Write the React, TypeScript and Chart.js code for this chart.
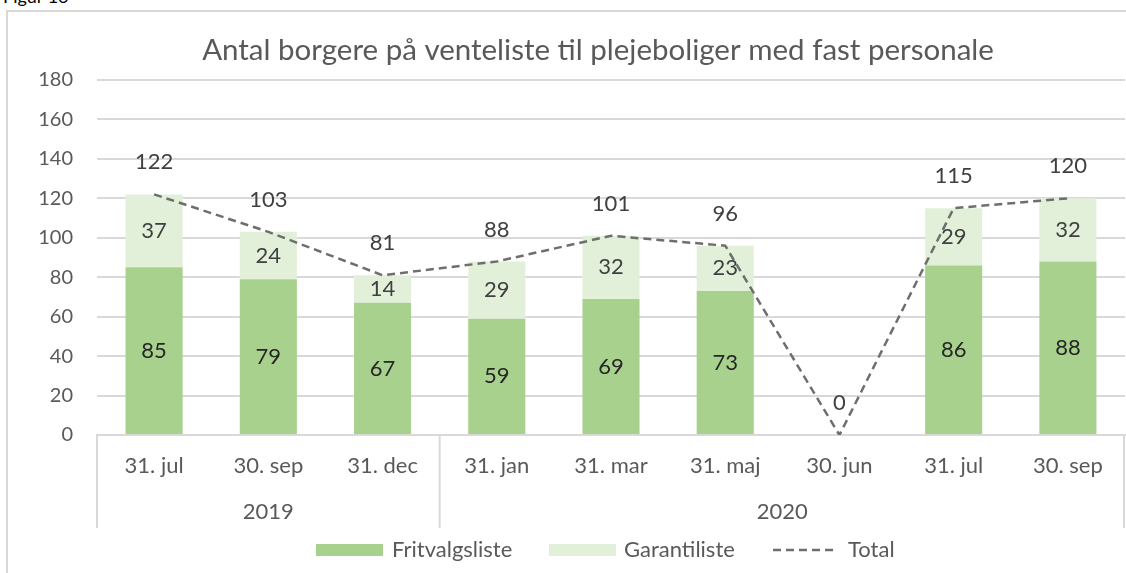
import React, { useEffect, useRef } from "react";
import { Chart, registerables } from "chart.js";

Chart.register(...registerables);

const TITLE = "Antal borgere på venteliste til plejeboliger med fast personale";
const categories = ["31. jul", "30. sep", "31. dec", "31. jan", "31. mar", "31. maj", "30. jun", "31. jul", "30. sep"];
const years = ["2019", "2020"];
const yearSpans = [3, 6];
const fritvalgsliste = [85, 79, 67, 59, 69, 73, null, 86, 88];
const garantiliste = [37, 24, 14, 29, 32, 23, null, 29, 32];
const total = [122, 103, 81, 88, 101, 96, 0, 115, 120];
const yTicks = [0, 20, 40, 60, 80, 100, 120, 140, 160, 180];

const FONT = "Lato, 'Noto Sans', sans-serif";
const GRID = "#d9d9d9";
const TEXT = "#595959";
const GREEN = "#a9d18e";
const LIGHT = "#e2f0d9";
const LINE = "#6e6e6e";

const overlay = {
  id: "overlay",
  afterDatasetsDraw(chart: any) {
    const ctx = chart.ctx;
    const area = chart.chartArea;
    const x = chart.scales.x;
    ctx.save();
    // title
    ctx.fillStyle = TEXT;
    ctx.font = `29.5px ${FONT}`;
    ctx.textAlign = "center";
    ctx.textBaseline = "middle";
    ctx.fillText(TITLE, 598, 50);

    // bar labels
    ctx.font = `22px ${FONT}`;
    const m0 = chart.getDatasetMeta(0);
    const m1 = chart.getDatasetMeta(1);
    const m2 = chart.getDatasetMeta(2);
    m0.data.forEach((el: any, i: number) => {
      const v = fritvalgsliste[i];
      if (v == null) return;
      ctx.fillStyle = "#262626";
      ctx.fillText(String(v), el.x, (el.y + el.base) / 2);
    });
    m1.data.forEach((el: any, i: number) => {
      const v = garantiliste[i];
      if (v == null) return;
      ctx.fillStyle = "#404040";
      ctx.fillText(String(v), el.x, (el.y + el.base) / 2);
    });
    m2.data.forEach((el: any, i: number) => {
      ctx.fillStyle = "#404040";
      ctx.fillText(String(total[i]), el.x, el.y - 32);
    });

    // x axis category labels
    ctx.fillStyle = TEXT;
    ctx.font = `22px ${FONT}`;
    categories.forEach((c, i) => {
      ctx.fillText(c, x.getPixelForValue(i), 466);
    });
    // year separators and labels
    const step = (area.right - area.left) / categories.length;
    ctx.strokeStyle = GRID;
    ctx.lineWidth = 2;
    let start = 0;
    const seps: number[] = [area.left];
    years.forEach((y, k) => {
      const end = start + yearSpans[k];
      const xl = area.left + start * step;
      const xr = area.left + end * step;
      seps.push(xr);
      ctx.fillText(y, (xl + xr) / 2, 512);
      start = end;
    });
    seps.forEach((sx, k) => {
      const px = k === seps.length - 1 ? Math.min(sx, chart.width - 2) : sx;
      ctx.beginPath();
      ctx.moveTo(px, area.bottom);
      ctx.lineTo(px, 528);
      ctx.stroke();
    });

    // legend
    const ly = 550;
    ctx.textAlign = "left";
    ctx.fillStyle = GREEN;
    ctx.fillRect(316, ly - 6, 67, 12);
    ctx.fillStyle = TEXT;
    ctx.fillText("Fritvalgsliste", 392, ly);
    ctx.fillStyle = LIGHT;
    ctx.fillRect(549, ly - 6, 67, 12);
    ctx.fillStyle = TEXT;
    ctx.fillText("Garantiliste", 624, ly);
    ctx.strokeStyle = LINE;
    ctx.lineWidth = 2.5;
    ctx.setLineDash([8, 5]);
    ctx.beginPath();
    ctx.moveTo(773, ly);
    ctx.lineTo(837, ly);
    ctx.stroke();
    ctx.setLineDash([]);
    ctx.fillText("Total", 848, ly);
    ctx.restore();
  },
};

export default function App() {
  const ref = useRef<HTMLCanvasElement>(null);
  useEffect(() => {
    if (!ref.current) return;
    const chart = new Chart(ref.current, {
      type: "bar",
      data: {
        labels: categories,
        datasets: [
          {
            type: "bar",
            label: "Fritvalgsliste",
            data: fritvalgsliste as any,
            backgroundColor: GREEN,
            stack: "s",
            order: 1,
            barPercentage: 0.5,
            categoryPercentage: 1,
          },
          {
            type: "bar",
            label: "Garantiliste",
            data: garantiliste as any,
            backgroundColor: LIGHT,
            stack: "s",
            order: 2,
            barPercentage: 0.5,
            categoryPercentage: 1,
          },
          {
            type: "line",
            label: "Total",
            data: total,
            borderColor: LINE,
            borderWidth: 2.5,
            borderDash: [8, 5],
            pointRadius: 0,
            tension: 0,
            fill: false,
            stack: "t",
            order: 0,
          } as any,
        ],
      },
      options: {
        animation: false,
        responsive: false,
        maintainAspectRatio: false,
        layout: { padding: { top: 80, left: 0, right: 1, bottom: 0 } },
        plugins: { legend: { display: false }, title: { display: false }, tooltip: { enabled: false } },
        scales: {
          x: {
            stacked: true,
            offset: true,
            grid: { display: false },
            border: { display: true, color: GRID, width: 2 },
            ticks: { display: false },
            afterFit: (s: any) => {
              s.height = 573 - 435;
            },
          },
          y: {
            stacked: true,
            min: 0,
            max: 180,
            afterBuildTicks: (s: any) => {
              s.ticks = yTicks.map((v) => ({ value: v }));
            },
            grid: { color: GRID, lineWidth: 2, drawTicks: false },
            border: { display: false },
            ticks: { color: TEXT, font: { family: FONT, size: 20 }, padding: 24 },
            afterFit: (s: any) => {
              s.width = 97;
            },
          },
        },
      },
      plugins: [overlay],
    });
    return () => chart.destroy();
  }, []);
  return (
    <div style={{ position: "fixed", left: 0, top: 0, width: 1126, height: 573, overflow: "hidden", background: "#fff" }}>
      <div style={{ position: "absolute", left: 3, top: -15, fontFamily: FONT, fontSize: 18, color: "#000" }}>Figur 16</div>
      <div style={{ position: "absolute", left: 6, top: 10, width: 1140, height: 600, border: `2px solid ${GRID}` }} />
      <canvas ref={ref} width={1126} height={573} style={{ position: "absolute", left: 0, top: 0 }} />
    </div>
  );
}
